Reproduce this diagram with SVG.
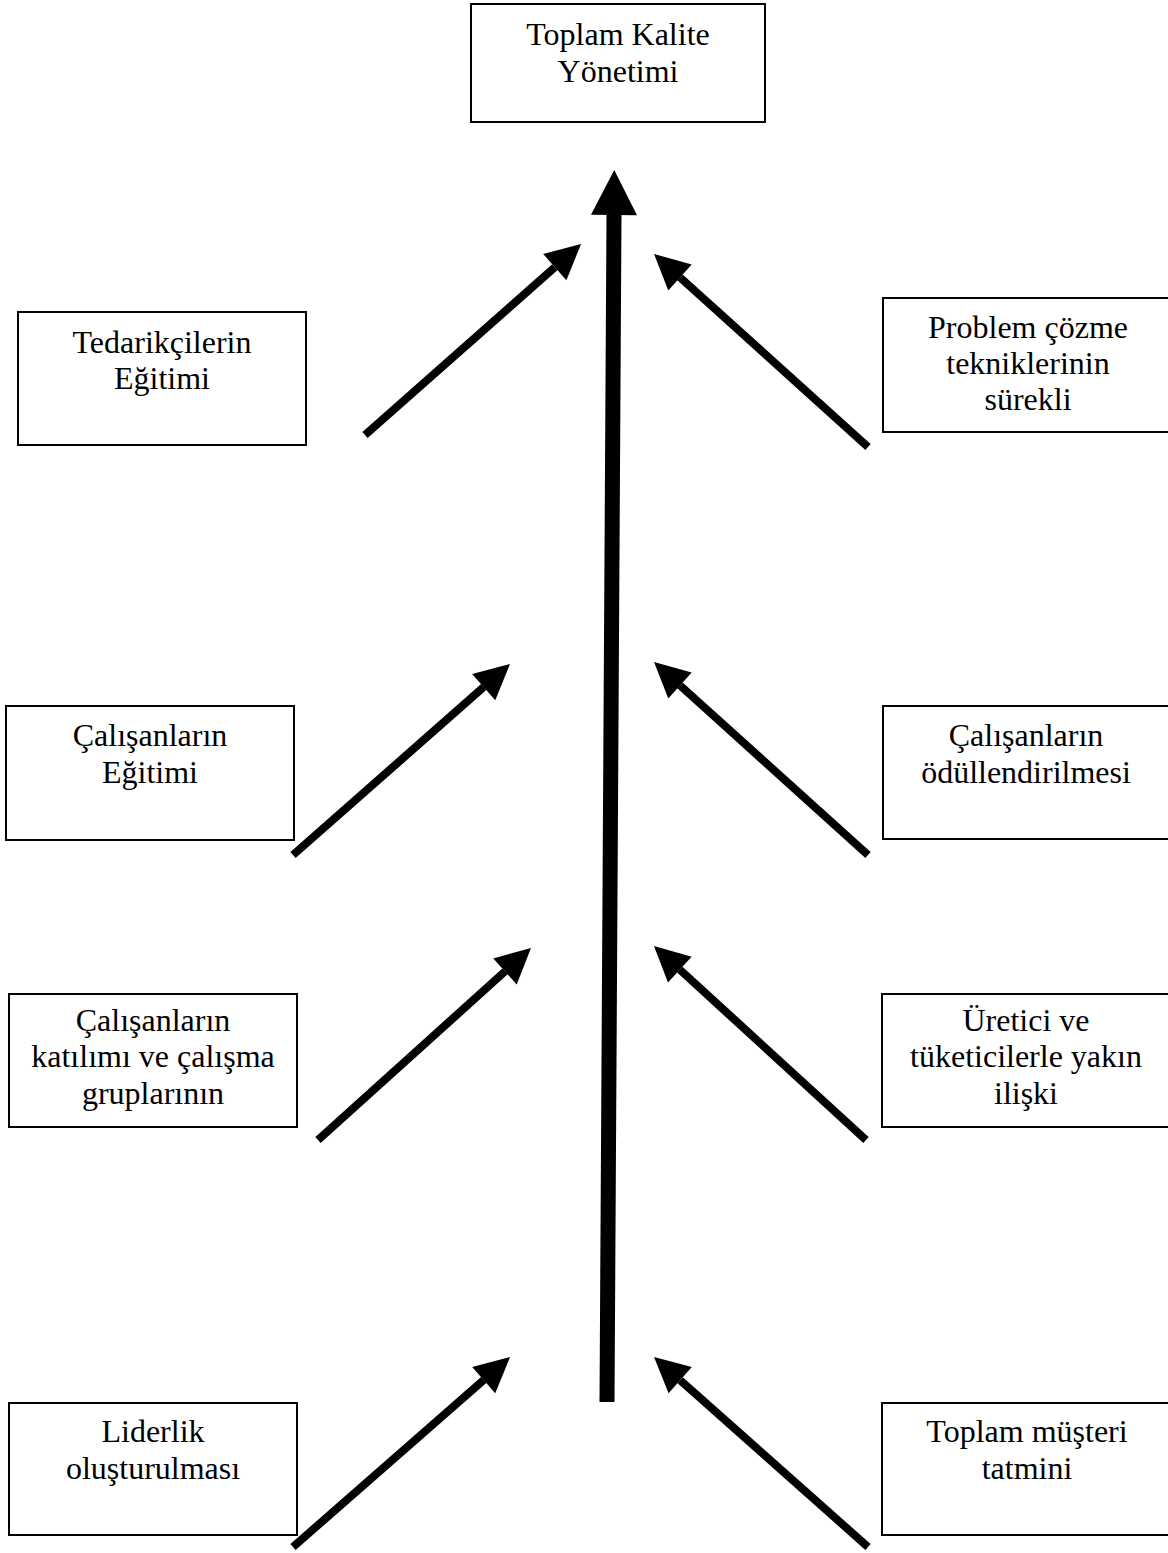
<svg xmlns="http://www.w3.org/2000/svg" width="1168" height="1553" viewBox="0 0 1168 1553">
  <style>
    .box { fill: #ffffff; stroke: #000000; stroke-width: 2; }
    .label { font-family: "Liberation Serif", "Times New Roman", serif; font-size: 32px; fill: #000000; text-anchor: middle; }
    .spoke { stroke: #000000; stroke-width: 8; fill: none; stroke-linecap: butt; marker-end: url(#headSmall); }
    .spine { stroke: #000000; stroke-width: 15; fill: none; stroke-linecap: butt; marker-end: url(#headLarge); }
  </style>
  <defs>
    <marker id="headSmall" markerUnits="userSpaceOnUse" viewBox="0 -18 36 36" markerWidth="36" markerHeight="36" refX="0" refY="0" orient="auto" overflow="visible">
      <path d="M0,-17.5 L35,0 L0,17.5 Z" fill="#000000"/>
    </marker>
    <marker id="headLarge" markerUnits="userSpaceOnUse" viewBox="0 -24 46 48" markerWidth="46" markerHeight="48" refX="0" refY="0" orient="auto" overflow="visible">
      <path d="M0,-23 L45,0 L0,23 Z" fill="#000000"/>
    </marker>
  </defs>
  <rect x="0" y="0" width="1168" height="1553" fill="#ffffff"/>

  <!-- connectors -->
  <g id="connectors">
    <line class="spine" x1="607" y1="1402" x2="614" y2="215"/>
    <line class="spoke" x1="365" y1="435" x2="554.8" y2="267.2"/>
    <line class="spoke" x1="293" y1="855" x2="483.7" y2="687.1"/>
    <line class="spoke" x1="318" y1="1140" x2="505" y2="971.4"/>
    <line class="spoke" x1="293" y1="1547" x2="483.7" y2="1380.1"/>
    <line class="spoke" x1="868" y1="447" x2="680" y2="277.4"/>
    <line class="spoke" x1="868" y1="855" x2="680" y2="685.4"/>
    <line class="spoke" x1="866" y1="1140" x2="679.8" y2="969.6"/>
    <line class="spoke" x1="868" y1="1547" x2="680.2" y2="1380.2"/>
  </g>

  <!-- nodes -->
  <g id="tkm">
    <rect class="box" x="471" y="4" width="294" height="118"/>
    <text class="label" x="618" y="45">Toplam Kalite</text>
    <text class="label" x="618" y="82">Yönetimi</text>
  </g>
  <g id="tedarikci-egitimi">
    <rect class="box" x="18" y="312" width="288" height="133"/>
    <text class="label" x="162" y="353">Tedarikçilerin</text>
    <text class="label" x="162" y="389">Eğitimi</text>
  </g>
  <g id="problem-cozme">
    <rect class="box" x="883" y="298" width="290" height="134"/>
    <text class="label" x="1028" y="338">Problem çözme</text>
    <text class="label" x="1028" y="374">tekniklerinin</text>
    <text class="label" x="1028" y="410">sürekli</text>
  </g>
  <g id="calisan-egitimi">
    <rect class="box" x="6" y="706" width="288" height="134"/>
    <text class="label" x="150" y="746">Çalışanların</text>
    <text class="label" x="150" y="783">Eğitimi</text>
  </g>
  <g id="calisan-odul">
    <rect class="box" x="883" y="706" width="290" height="133"/>
    <text class="label" x="1026" y="746">Çalışanların</text>
    <text class="label" x="1026" y="783">ödüllendirilmesi</text>
  </g>
  <g id="calisan-katilim">
    <rect class="box" x="9" y="994" width="288" height="133"/>
    <text class="label" x="153" y="1031">Çalışanların</text>
    <text class="label" x="153" y="1067">katılımı ve çalışma</text>
    <text class="label" x="153" y="1104">gruplarının</text>
  </g>
  <g id="uretici-tuketici">
    <rect class="box" x="882" y="994" width="291" height="133"/>
    <text class="label" x="1026" y="1031">Üretici ve</text>
    <text class="label" x="1026" y="1067">tüketicilerle yakın</text>
    <text class="label" x="1026" y="1104">ilişki</text>
  </g>
  <g id="liderlik">
    <rect class="box" x="9" y="1403" width="288" height="132"/>
    <text class="label" x="153" y="1442">Liderlik</text>
    <text class="label" x="153" y="1479">oluşturulması</text>
  </g>
  <g id="musteri-tatmini">
    <rect class="box" x="882" y="1403" width="291" height="132"/>
    <text class="label" x="1027" y="1442">Toplam müşteri</text>
    <text class="label" x="1027" y="1479">tatmini</text>
  </g>
</svg>
